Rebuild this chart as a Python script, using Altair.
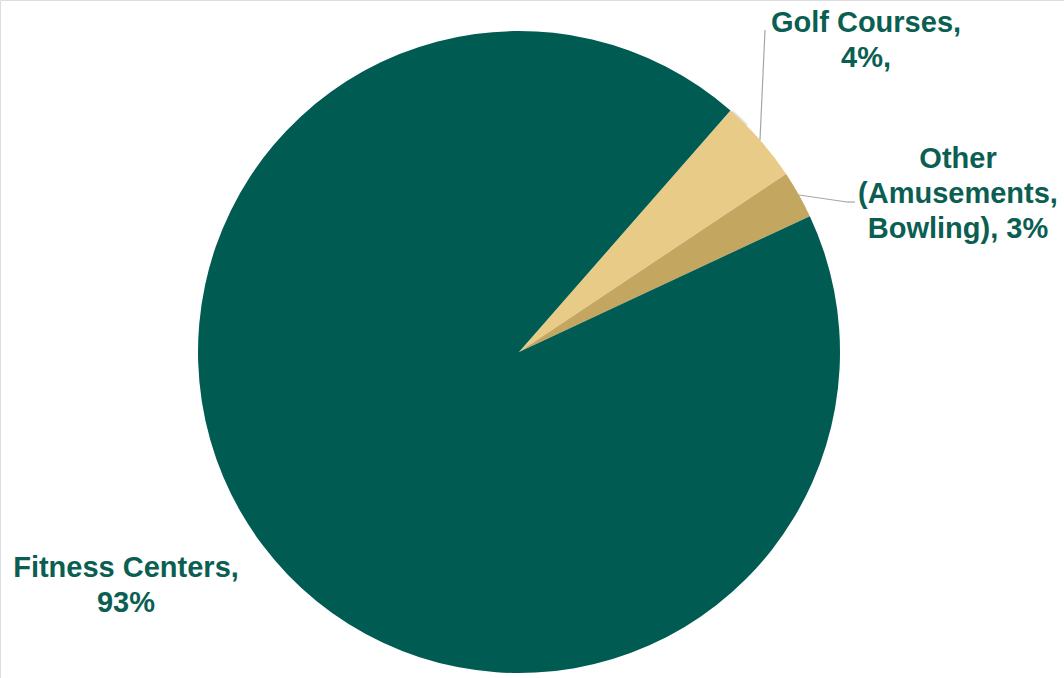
import altair as alt
import pandas as pd
import math

categories = ["Golf Courses", "Other (Amusements, Bowling)", "Fitness Centers"]
values = [4.2, 2.4, 93.4]
colors = ["#E8CB86", "#C3A660", "#005C52"]
order = [1, 2, 3]

df = pd.DataFrame({"category": categories, "value": values, "order": order})

start = math.radians(41.2)
W, H = 1064, 678
CX, CY, R = 519, 352, 321
TXT = "#0B5E52"

base = alt.Chart(df)

shadow = alt.Chart(pd.DataFrame({"v": [1]})).mark_arc(
    outerRadius=R + 3, color="#000000", opacity=0.06
).encode(theta=alt.Theta("v:Q"), x=alt.value(CX + 1), y=alt.value(CY + 2))
shadow2 = alt.Chart(pd.DataFrame({"v": [1]})).mark_arc(
    outerRadius=R + 1.5, color="#000000", opacity=0.08
).encode(theta=alt.Theta("v:Q"), x=alt.value(CX + 1), y=alt.value(CY + 1.5))

pie = base.mark_arc(outerRadius=R, stroke=None).encode(
    theta=alt.Theta("value:Q", stack=True,
                    scale=alt.Scale(range=[start, start + 2 * math.pi])),
    color=alt.Color("category:N", scale=alt.Scale(domain=categories, range=colors), legend=None),
    order=alt.Order("order:Q"),
    x=alt.value(CX), y=alt.value(CY),
)

leader_golf = alt.Chart(pd.DataFrame({"v": [1]})).mark_rule(color="#A6A6A6", strokeWidth=1.2).encode(
    x=alt.value(760), y=alt.value(140), x2=alt.value(765), y2=alt.value(30)
)
leader_other1 = alt.Chart(pd.DataFrame({"v": [1]})).mark_rule(color="#A6A6A6", strokeWidth=1.2).encode(
    x=alt.value(799), y=alt.value(195), x2=alt.value(847), y2=alt.value(202)
)
leader_other2 = alt.Chart(pd.DataFrame({"v": [1]})).mark_rule(color="#A6A6A6", strokeWidth=1.2).encode(
    x=alt.value(847), y=alt.value(202), x2=alt.value(855), y2=alt.value(202)
)

def label(lines, x, y):
    return alt.Chart(pd.DataFrame({"t": [lines]})).mark_text(
        font="Liberation Sans", fontWeight="bold", fontSize=29, color=TXT,
        align="center", baseline="middle", lineHeight=35
    ).encode(text="t:N", x=alt.value(x), y=alt.value(y))

lab_golf = label(["Golf Courses,", "4%,"], 866, 23)
lab_other = label(["Other", "(Amusements,", "Bowling), 3%"], 958, 159)
lab_fit = label(["Fitness Centers,", "93%"], 126, 568)

chart = alt.layer(shadow, shadow2, pie, leader_golf, leader_other1, leader_other2,
                  lab_golf, lab_other, lab_fit).properties(
    width=W, height=H, padding=0, autosize=alt.AutoSizeParams(type="none")
).configure_view(stroke=None).configure(background="white")

chart.save("out.html", embed_options={"renderer": "svg", "actions": False})
